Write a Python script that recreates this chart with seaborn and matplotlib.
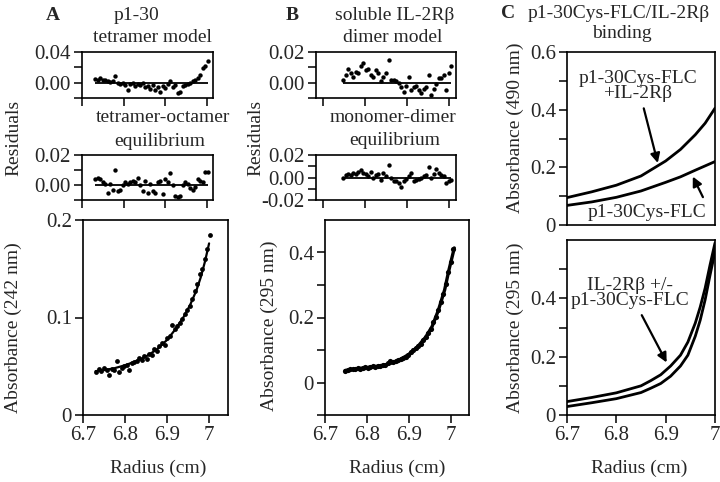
import matplotlib
matplotlib.use("Agg")
import matplotlib.pyplot as plt
from matplotlib.ticker import FixedLocator
import seaborn as sns

sns.set_theme(style="ticks")
plt.rcParams["font.family"] = ["Liberation Serif", "DejaVu Serif"]
plt.rcParams["axes.edgecolor"] = "black"
plt.rcParams["axes.linewidth"] = 1.2

# ---- panel A: p1-30 ----
A_radius = [6.732, 6.738, 6.744, 6.750, 6.756, 6.762, 6.768, 6.774, 6.780, 6.786,
            6.792, 6.798, 6.804, 6.810, 6.816, 6.822, 6.828, 6.834, 6.840, 6.846,
            6.852, 6.858, 6.864, 6.870, 6.876, 6.882, 6.888, 6.894, 6.900, 6.906,
            6.912, 6.918, 6.924, 6.930, 6.936, 6.942, 6.948, 6.954, 6.960, 6.966,
            6.972, 6.978, 6.984, 6.990, 6.996, 7.002]
A_abs = [0.044, 0.047, 0.045, 0.048, 0.046, 0.041, 0.047, 0.046, 0.055, 0.044,
         0.048, 0.050, 0.051, 0.046, 0.053, 0.054, 0.055, 0.058, 0.056, 0.061,
         0.057, 0.063, 0.062, 0.068, 0.066, 0.071, 0.074, 0.072, 0.079, 0.081,
         0.092, 0.088, 0.091, 0.094, 0.098, 0.104, 0.108, 0.112, 0.119, 0.127,
         0.134, 0.145, 0.150, 0.160, 0.170, 0.185]
A_res_tetramer = [0.005, 0.004, 0.006, 0.003, 0.004, 0.002, 0.001, 0.002, 0.009, 0.000,
                  -0.002, -0.001, -0.003, -0.009, -0.002, -0.001, -0.004, -0.002, -0.003, 0.000,
                  -0.006, -0.004, -0.008, -0.003, -0.010, -0.006, -0.012, -0.004, -0.007, -0.002,
                  0.002, -0.005, -0.003, -0.013, -0.012, -0.004, -0.003, -0.002, -0.001, 0.002,
                  0.004, 0.006, 0.010, 0.019, 0.022, 0.028]
A_res_tet_oct = [0.004, 0.005, 0.004, 0.002, 0.001, -0.005, 0.001, -0.003, 0.010, -0.004,
                 -0.003, 0.000, 0.002, 0.001, 0.002, 0.003, 0.002, 0.005, 0.000, -0.004,
                 0.003, -0.005, 0.001, -0.004, -0.005, 0.002, 0.003, -0.006, 0.004, 0.002,
                 0.008, 0.000, -0.007, -0.008, -0.007, 0.000, 0.002, 0.001, -0.002, -0.003,
                 -0.001, 0.004, 0.003, 0.002, 0.009, 0.009]
A_fit_r = [6.730, 6.750, 6.775, 6.800, 6.825, 6.850, 6.875, 6.900, 6.920, 6.940,
           6.955, 6.970, 6.980, 6.990, 7.000]
A_fit = [0.045, 0.046, 0.048, 0.051, 0.055, 0.060, 0.067, 0.077, 0.088, 0.101,
         0.113, 0.128, 0.141, 0.157, 0.176]

# ---- panel B: soluble IL-2Rbeta ----
B_radius = [6.748, 6.754, 6.760, 6.766, 6.772, 6.778, 6.784, 6.790, 6.796, 6.802,
            6.808, 6.814, 6.820, 6.826, 6.832, 6.838, 6.844, 6.850, 6.856, 6.862,
            6.868, 6.874, 6.880, 6.886, 6.892, 6.898, 6.904, 6.910, 6.916, 6.922,
            6.928, 6.934, 6.940, 6.946, 6.952, 6.958, 6.964, 6.970, 6.976, 6.982,
            6.988, 6.994, 7.000, 7.006]
B_abs = [0.036, 0.040, 0.041, 0.042, 0.041, 0.044, 0.043, 0.046, 0.048, 0.046,
         0.048, 0.050, 0.049, 0.051, 0.050, 0.053, 0.055, 0.060, 0.066, 0.063,
         0.066, 0.069, 0.071, 0.076, 0.080, 0.085, 0.095, 0.099, 0.106, 0.112,
         0.120, 0.130, 0.140, 0.152, 0.166, 0.185, 0.203, 0.224, 0.248, 0.272,
         0.303, 0.340, 0.370, 0.410]
B_res_dimer = [0.002, 0.005, 0.009, 0.006, 0.004, 0.007, 0.006, 0.011, 0.013, 0.008,
               0.009, 0.005, 0.004, 0.008, 0.006, 0.001, 0.004, 0.006, 0.015, 0.002,
               0.002, 0.001, 0.000, -0.003, -0.006, -0.002, 0.004, -0.005, -0.003, -0.002,
               -0.005, -0.007, -0.004, -0.003, 0.005, -0.008, -0.004, -0.001, 0.003, 0.003,
               0.005, -0.005, 0.006, 0.011]
B_res_mon_dim = [0.000, 0.002, 0.003, 0.002, 0.004, 0.003, 0.005, 0.007, 0.004, 0.003,
                 0.001, 0.005, 0.000, 0.002, 0.003, -0.002, 0.004, 0.001, 0.011, 0.000,
                 -0.003, -0.003, -0.005, -0.008, -0.003, -0.001, 0.001, 0.004, -0.003, -0.002,
                 -0.001, 0.000, 0.001, 0.002, 0.009, 0.000, 0.003, 0.008, 0.004, 0.002,
                 0.001, -0.005, -0.003, -0.002]
B_fit_r = [6.748, 6.775, 6.800, 6.825, 6.850, 6.875, 6.900, 6.920, 6.940, 6.955,
           6.970, 6.985, 6.995, 7.008]
B_fit = [0.037, 0.042, 0.046, 0.050, 0.056, 0.067, 0.087, 0.109, 0.140, 0.172,
         0.222, 0.285, 0.345, 0.414]

# ---- panel C: binding ----
C_top_r = [6.70, 6.75, 6.80, 6.85, 6.90, 6.93, 6.96, 6.98, 7.00]
C_top_complex = [0.095, 0.115, 0.138, 0.170, 0.222, 0.262, 0.313, 0.353, 0.405]
C_top_flc = [0.068, 0.080, 0.096, 0.118, 0.148, 0.167, 0.190, 0.205, 0.220]
C_bot_r = [6.70, 6.75, 6.80, 6.85, 6.87, 6.89, 6.91, 6.93, 6.945, 6.96, 6.97, 6.98, 6.99, 7.00]
C_bot_upper = [0.046, 0.060, 0.076, 0.100, 0.118, 0.138, 0.168, 0.205, 0.250, 0.315,
               0.370, 0.435, 0.515, 0.590]
C_bot_lower = [0.029, 0.042, 0.056, 0.077, 0.092, 0.108, 0.133, 0.168, 0.205, 0.270,
               0.325, 0.395, 0.480, 0.560]

radius_ticks = [6.7, 6.8, 6.9, 7.0]
radius_labels = ["6.7", "6.8", "6.9", "7"]

W, H = 720, 482
FS = 14
TFS = 15
fig = plt.figure(figsize=(W / 100, H / 100), dpi=100)


def box(left, top, right, bottom):
    return fig.add_axes([left / W, 1 - bottom / H, (right - left) / W, (bottom - top) / H])


def ftext(x, y, s, **kw):
    kw.setdefault("fontsize", FS)
    fig.text(x / W, 1 - y / H, s, ha="center", va="center", **kw)


def style(ax, xlim, ylim, yticks, ylabels, minor=(), xlabels=True, xticks=True):
    ax.set_xlim(*xlim)
    ax.set_ylim(*ylim)
    ax.set_yticks(yticks)
    ax.set_yticklabels(ylabels)
    ax.yaxis.set_minor_locator(FixedLocator(list(minor)))
    if xticks:
        ax.set_xticks(radius_ticks)
        ax.set_xticklabels(radius_labels if xlabels else [])
    else:
        ax.set_xticks([])
    ax.tick_params(which="both", direction="out", color="black", width=1.1,
                   labelsize=TFS, pad=2, length=6)
    ax.set_xlabel("")
    ax.set_ylabel("")
    for sp in ax.spines.values():
        sp.set_visible(True)
        sp.set_color("black")


def residual(ax, r, res, xlim, ylim, yticks, ylabels, minor):
    sns.scatterplot(x=r, y=res, ax=ax, color="black", s=10, linewidth=0)
    ax.hlines(0, r[0], r[-1], color="black", lw=1.3)
    style(ax, xlim, ylim, yticks, ylabels, minor, xlabels=False)


# A
ax = box(82, 52, 213, 98)
residual(ax, A_radius, A_res_tetramer, (6.7, 7.014), (-0.02, 0.04),
         [0.0, 0.04], ["0.00", "0.04"], [-0.02, 0.02])
ax = box(82, 155, 213, 200)
residual(ax, A_radius, A_res_tet_oct, (6.7, 7.014), (-0.01, 0.02),
         [0.0, 0.02], ["0.00", "0.02"], [-0.01, 0.01])
ax = box(83, 220, 228, 415)
sns.scatterplot(x=A_radius, y=A_abs, ax=ax, color="black", s=12, linewidth=0)
sns.lineplot(x=A_fit_r, y=A_fit, ax=ax, color="black", lw=1.6)
style(ax, (6.7, 7.045), (0, 0.2), [0, 0.1, 0.2], ["0", "0.1", "0.2"])

# B
ax = box(316, 52, 456, 98)
residual(ax, B_radius, B_res_dimer, (6.683, 7.017), (-0.01, 0.02),
         [0.0, 0.02], ["0.00", "0.02"], [-0.01, 0.01])
ax = box(316, 155, 456, 200)
residual(ax, B_radius, B_res_mon_dim, (6.683, 7.017), (-0.02, 0.02),
         [-0.02, 0.0, 0.02], ["-0.02", "0.00", "0.02"], [-0.01, 0.01])
ax = box(325, 220, 469, 415)
sns.scatterplot(x=B_radius, y=B_abs, ax=ax, color="black", s=14, linewidth=0)
sns.lineplot(x=B_fit_r, y=B_fit, ax=ax, color="black", lw=2.4)
style(ax, (6.7, 7.043), (-0.1, 0.5), [0, 0.2, 0.4], ["0", "0.2", "0.4"],
      [-0.1, 0.1, 0.3])

# C top
ax = box(567, 52, 715, 225)
sns.lineplot(x=C_top_r, y=C_top_complex, ax=ax, color="black", lw=2)
sns.lineplot(x=C_top_r, y=C_top_flc, ax=ax, color="black", lw=2)
style(ax, (6.7, 7.0), (0, 0.6), [0, 0.2, 0.4, 0.6], ["0", "0.2", "0.4", "0.6"],
      [0.1, 0.3, 0.5], xticks=False)
arrow = dict(arrowstyle="-|>", color="black", lw=1.6, mutation_scale=14,
             shrinkA=2, shrinkB=0)
ax.annotate("p1-30Cys-FLC\n+IL-2R\u03b2", xy=(6.884, 0.215), xytext=(6.844, 0.482),
            ha="center", va="center", fontsize=FS, linespacing=0.9,
            arrowprops=arrow)
ax.annotate("", xy=(6.955, 0.168), xytext=(6.978, 0.088), arrowprops=arrow)
ax.text(6.862, 0.045, "p1-30Cys-FLC", ha="center", va="center", fontsize=FS)

# C bottom
ax = box(567, 240, 715, 415)
sns.lineplot(x=C_bot_r, y=C_bot_upper, ax=ax, color="black", lw=2)
sns.lineplot(x=C_bot_r, y=C_bot_lower, ax=ax, color="black", lw=2)
style(ax, (6.7, 7.0), (0, 0.6), [0, 0.2, 0.4], ["0", "0.2", "0.4"], [0.1, 0.3, 0.5])
ax.annotate("IL-2R\u03b2 +/-\np1-30Cys-FLC", xy=(6.902, 0.18), xytext=(6.828, 0.418),
            ha="center", va="center", fontsize=FS, linespacing=0.9,
            arrowprops=arrow)

# panel headings
ftext(53, 15, "A", fontweight="bold")
ftext(137, 15, "p1-30")
ftext(152, 38, "tetramer model")
ftext(163, 117, "tetramer-octamer")
ftext(160, 141, "equilibrium")
ftext(292, 15, "B", fontweight="bold")
ftext(395, 15, "soluble IL-2R\u03b2")
ftext(393, 38, "dimer model")
ftext(393, 118, "monomer-dimer")
ftext(395, 140, "equilibrium")
ftext(508, 13, "C", fontweight="bold")
ftext(619, 13, "p1-30Cys-FLC/IL-2R\u03b2")
ftext(622, 33, "binding")

# axis labels
ftext(14, 138, "Residuals", rotation=90)
ftext(13, 328, "Absorbance (242 nm)", rotation=90)
ftext(256, 138, "Residuals", rotation=90)
ftext(269, 326, "Absorbance (295 nm)", rotation=90)
ftext(515, 128, "Absorbance (490 nm)", rotation=90)
ftext(515, 328, "Absorbance (295 nm)", rotation=90)
ftext(158, 468, "Radius (cm)")
ftext(397, 468, "Radius (cm)")
ftext(639, 468, "Radius (cm)")

fig.savefig("out.png", dpi=100)
